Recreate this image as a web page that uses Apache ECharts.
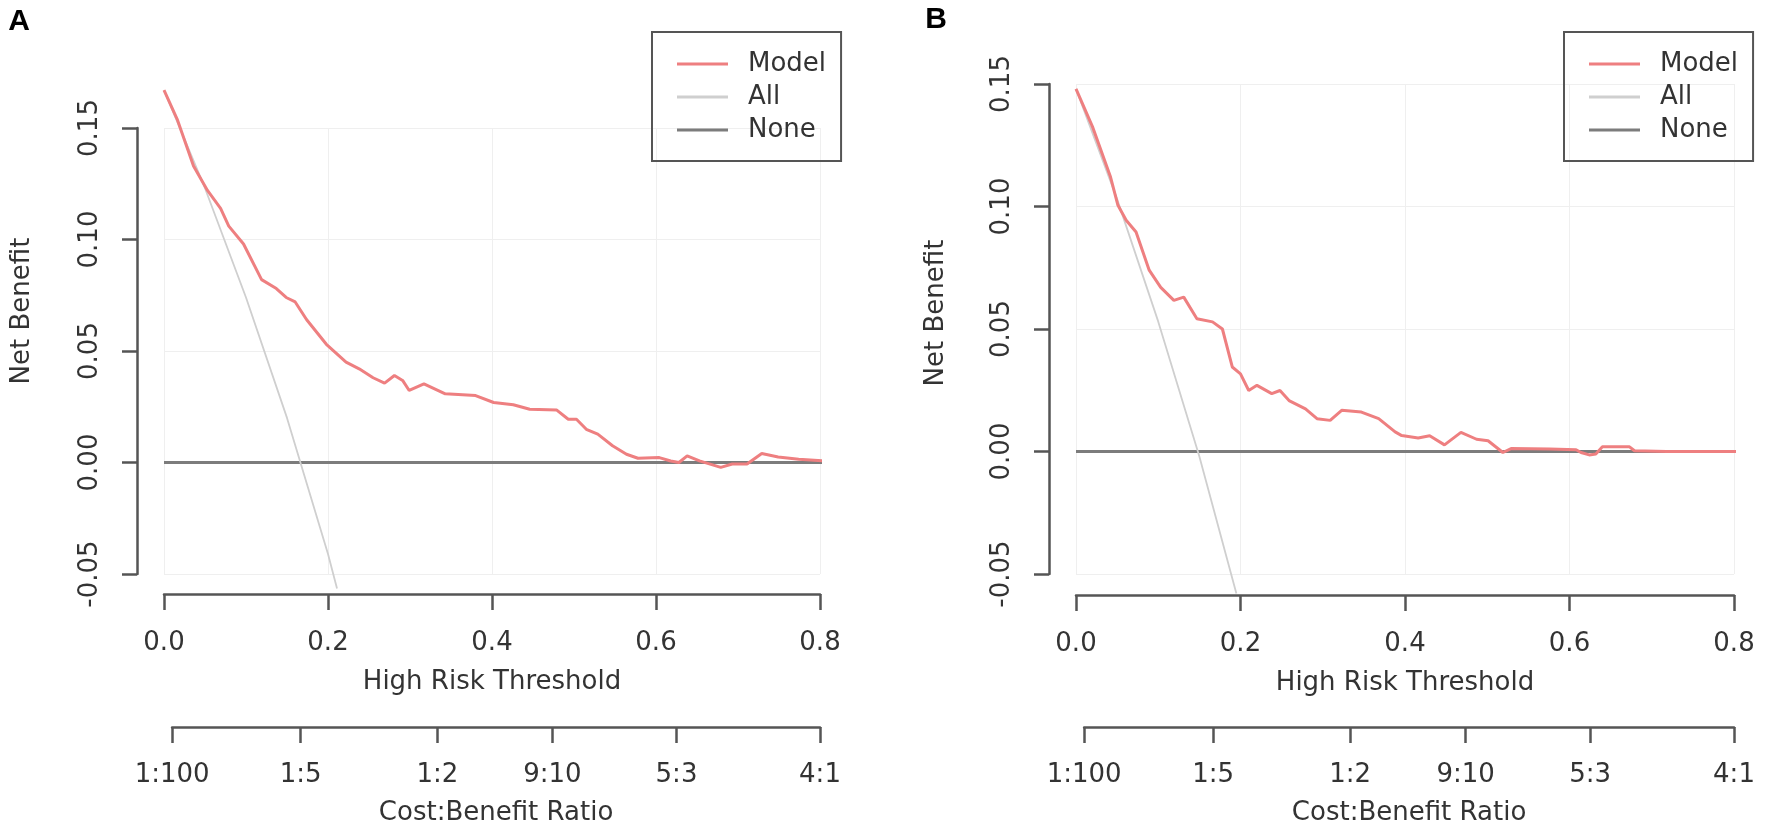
<!DOCTYPE html>
<html>
<head>
<meta charset="utf-8">
<title>Decision curves</title>
<script src="https://cdn.jsdelivr.net/npm/echarts@6/dist/echarts.min.js"></script>
<style>
  html, body { margin: 0; padding: 0; background: #fff; }
  #chart { width: 1771px; height: 835px; }
</style>
</head>
<body>
<div id="chart"></div>
<script>
// 面板A：阈值与净获益
const thresholdA = [0, 0.016, 0.036, 0.053, 0.069, 0.079, 0.097, 0.119, 0.137, 0.149, 0.16, 0.174, 0.198, 0.222, 0.238, 0.255, 0.269, 0.281, 0.291, 0.299, 0.317, 0.343, 0.38, 0.402, 0.426, 0.446, 0.479, 0.493, 0.503, 0.515, 0.529, 0.547, 0.564, 0.578, 0.604, 0.618, 0.628, 0.638, 0.653, 0.679, 0.693, 0.711, 0.729, 0.749, 0.774, 0.806, 0.83];
const modelA = [0.167, 0.154, 0.133, 0.122, 0.114, 0.106, 0.098, 0.082, 0.078, 0.074, 0.072, 0.064, 0.053, 0.045, 0.042, 0.038, 0.0356, 0.039, 0.0368, 0.0323, 0.0353, 0.0308, 0.03, 0.0269, 0.0259, 0.0239, 0.0235, 0.0194, 0.0194, 0.0149, 0.0127, 0.0075, 0.0037, 0.0019, 0.0022, 0.0007, 0, 0.003, 0.0007, -0.0022, -0.0007, -0.0007, 0.004, 0.0025, 0.0015, 0.0007, 0.0004];
const allThresholdA = [0, 0.05, 0.1, 0.15, 0.2, 0.211];
const allA = [0.167, 0.123, 0.074, 0.02, -0.041, -0.0565];

// 面板B
const thresholdB = [0, 0.02, 0.042, 0.051, 0.061, 0.073, 0.089, 0.103, 0.119, 0.131, 0.147, 0.166, 0.178, 0.19, 0.2, 0.21, 0.22, 0.238, 0.248, 0.259, 0.279, 0.293, 0.309, 0.323, 0.347, 0.368, 0.388, 0.396, 0.416, 0.43, 0.448, 0.468, 0.487, 0.501, 0.519, 0.529, 0.576, 0.608, 0.614, 0.624, 0.632, 0.64, 0.673, 0.679, 0.718, 0.831];
const modelB = [0.148, 0.1326, 0.112, 0.1005, 0.0944, 0.0896, 0.074, 0.067, 0.0617, 0.063, 0.0542, 0.0529, 0.05, 0.0345, 0.0317, 0.0249, 0.027, 0.0236, 0.0249, 0.0208, 0.0174, 0.0134, 0.0127, 0.0168, 0.0161, 0.0134, 0.008, 0.0065, 0.0055, 0.0064, 0.0027, 0.0078, 0.005, 0.0044, -0.0004, 0.0012, 0.001, 0.0007, -0.0004, -0.0014, -0.001, 0.0019, 0.0019, 0.0003, 0, 0];
const allThresholdB = [0, 0.05, 0.1, 0.15, 0.195];
const allB = [0.148, 0.103, 0.053, -0.002, -0.058];

// None 参考线
const noneThreshold = [0, 0.832];
const noneValues = [0, 0];

// 坐标轴刻度
const xTickLabels = ['0.0', '0.2', '0.4', '0.6', '0.8'];
const yTickLabels = ['-0.05', '0.00', '0.05', '0.10', '0.15'];
const cbTicks = [0.0099, 0.1667, 0.3333, 0.4737, 0.625, 0.8];
const cbLabels = ['1:100', '1:5', '1:2', '9:10', '5:3', '4:1'];
const seriesNames = ['Model', 'All', 'None'];

const FONT = 'DejaVu Sans';
const AXIS_COLOR = '#555';
const TEXT_COLOR = '#333';
const colors = { Model: '#EE7F80', All: '#CFCFCF', None: '#7C7C7C' };

function pairs(xs, ys) {
  return xs.map((x, i) => [x, ys[i]]);
}

let chart = echarts.init(document.getElementById('chart'), null, { renderer: 'canvas' });

const panels = [
  { tag: 'A', left: 164, width: 656, top: 128, height: 446, xOffset: 20, legendLeft: 652, tagX: 19, tagY: 22, nameX: 22, nameY: 311,
    model: pairs(thresholdA, modelA), all: pairs(allThresholdA, allA) },
  { tag: 'B', left: 1076, width: 658, top: 84, height: 490, xOffset: 21, legendLeft: 1564, tagX: 936, tagY: 20, nameX: 936, nameY: 313,
    model: pairs(thresholdB, modelB), all: pairs(allThresholdB, allB) }
];

let option = {
  animation: false,
  grid: [], xAxis: [], yAxis: [], series: [], legend: [], graphic: []
};

const axisLineStyle = { color: AXIS_COLOR, width: 2.5 };
const labelStyle = { fontSize: 26, fontFamily: FONT, color: TEXT_COLOR };

panels.forEach((p, k) => {
  const g = k * 2;
  // 主绘图区
  option.grid.push({ left: p.left, top: p.top, width: p.width, height: p.height });
  // 成本收益比轴（从 1:100 起画）
  const cbLeft = p.left + cbTicks[0] / 0.8 * p.width;
  option.grid.push({ left: cbLeft, top: 702, width: p.left + p.width - cbLeft, height: 25 });

  option.xAxis.push({
    gridIndex: g, type: 'value', min: 0, max: 0.8, interval: 0.2, position: 'bottom', offset: p.xOffset,
    axisLine: { onZero: false, lineStyle: axisLineStyle },
    axisTick: { length: 16, lineStyle: axisLineStyle },
    axisLabel: Object.assign({ margin: 36, formatter: (v) => xTickLabels[Math.round(v / 0.2)] }, labelStyle),
    splitLine: { show: true, lineStyle: { color: '#EFEFEF', width: 1 } },
    name: 'High Risk Threshold', nameLocation: 'middle', nameGap: 75, nameTextStyle: labelStyle
  });
  option.xAxis.push({
    gridIndex: g + 1, type: 'value', min: cbTicks[0], max: 0.8, position: 'bottom',
    axisLine: { onZero: false, lineStyle: axisLineStyle },
    axisTick: { length: 16, lineStyle: axisLineStyle, customValues: cbTicks },
    axisLabel: Object.assign({ margin: 35, customValues: cbTicks,
      formatter: (v) => { const i = cbTicks.findIndex((t) => Math.abs(t - v) < 1e-6); return i >= 0 ? cbLabels[i] : ''; } }, labelStyle),
    splitLine: { show: false },
    name: 'Cost:Benefit Ratio', nameLocation: 'middle', nameGap: 73, nameTextStyle: labelStyle
  });
  option.yAxis.push({
    gridIndex: g, type: 'value', min: -0.05, max: 0.15, interval: 0.05, offset: 27,
    axisLine: { show: true, onZero: false, lineStyle: axisLineStyle },
    axisTick: { show: true, length: 15, lineStyle: axisLineStyle },
    axisLabel: Object.assign({ margin: 34, rotate: 90, formatter: (v) => yTickLabels[Math.round((v + 0.05) / 0.05)] }, labelStyle),
    splitLine: { show: true, lineStyle: { color: '#EFEFEF', width: 1 } }
  });
  option.yAxis.push({ gridIndex: g + 1, type: 'value', show: false });

  option.series.push(
    { name: 'None', type: 'line', xAxisIndex: g, yAxisIndex: g, data: pairs(noneThreshold, noneValues),
      symbol: 'none', clip: false, silent: true, lineStyle: { color: colors.None, width: 3 }, itemStyle: { color: colors.None } },
    { name: 'All', type: 'line', xAxisIndex: g, yAxisIndex: g, data: p.all,
      symbol: 'none', clip: false, silent: true, lineStyle: { color: colors.All, width: 1.8 }, itemStyle: { color: colors.All } },
    { name: 'Model', type: 'line', xAxisIndex: g, yAxisIndex: g, data: p.model,
      symbol: 'none', clip: false, silent: true, lineStyle: { color: colors.Model, width: 3 }, itemStyle: { color: colors.Model } }
  );

  option.legend.push({
    orient: 'vertical', left: p.legendLeft, top: 32, padding: [19, 15, 18, 25], itemGap: 7,
    itemWidth: 51, itemHeight: 3, icon: 'rect', borderColor: AXIS_COLOR, borderWidth: 2, selectedMode: false,
    data: seriesNames, textStyle: Object.assign({ padding: [0, 0, 0, 15] }, labelStyle)
  });

  option.graphic.push(
    { type: 'text', x: p.tagX, y: p.tagY, silent: true,
      style: { text: p.tag, font: 'bold 30px "Liberation Sans"', fill: '#000', align: 'center', verticalAlign: 'middle' } },
    { type: 'text', x: p.nameX, y: p.nameY, rotation: Math.PI / 2, silent: true,
      style: { text: 'Net Benefit', font: '26px "' + FONT + '"', fill: TEXT_COLOR, align: 'center', verticalAlign: 'middle' } }
  );
});

chart.setOption(option);
</script>
</body>
</html>
